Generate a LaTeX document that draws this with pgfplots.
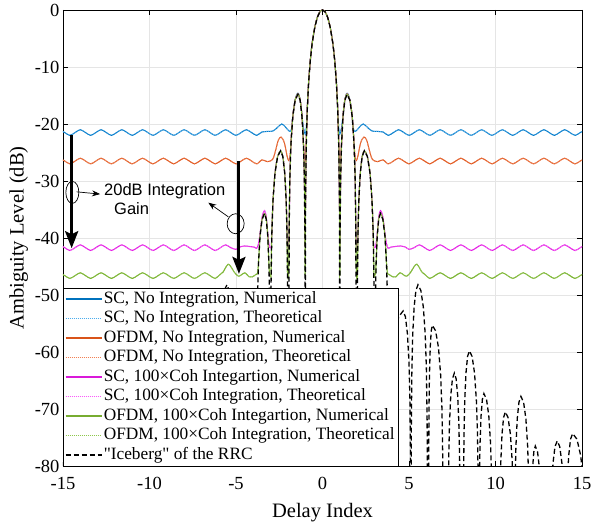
\documentclass[border=0pt]{standalone}
\usepackage{pgfplots}
\pgfplotsset{compat=1.18}
\usepackage{pgfplotstable}
\usepackage{fontspec}
\setmainfont{Liberation Serif}[Ligatures=TeXOff]
\setsansfont{Liberation Sans}
\usetikzlibrary{arrows.meta}

\definecolor{cB}{rgb}{0,0.447,0.741}
\definecolor{cO}{rgb}{0.85,0.325,0.098}
\definecolor{cM}{rgb}{0.85,0.1,0.85}
\definecolor{cG}{rgb}{0.466,0.674,0.188}
\definecolor{cBt}{rgb}{0.30,0.68,0.93}
\definecolor{cOt}{rgb}{0.95,0.50,0.33}
\definecolor{cMt}{rgb}{0.98,0.35,0.98}
\definecolor{cGt}{rgb}{0.56,0.78,0.30}

\pgfplotstableread{
x y
-15.2 -21.0
-14.9 -21.5
-14.6 -22.0
-14.3 -21.5
-14.0 -21.0
-13.7 -21.5
-13.4 -22.0
-13.1 -21.5
-12.8 -21.0
-12.5 -21.5
-12.2 -22.0
-11.9 -21.5
-11.6 -21.0
-11.3 -21.5
-11.0 -22.0
-10.7 -21.5
-10.4 -21.0
-10.1 -21.5
-9.8 -22.0
-9.5 -21.5
-9.2 -21.0
-8.9 -21.5
-8.6 -22.0
-8.3 -21.5
-8.0 -21.0
-7.7 -21.5
-7.4 -22.0
-7.1 -21.5
-6.8 -21.0
-6.5 -21.5
-6.2 -22.0
-5.9 -21.5
-5.6 -21.0
-5.3 -21.5
-5.0 -22.0
-4.7 -21.5
-4.4 -21.0
-4.1 -21.5
-3.8 -22.0
-3.5 -21.4
-3.1 -21.3
-2.84 -21.2
-2.6 -20.6
-2.36 -20.0
-2.15 -20.5
-1.98 -21.1
-1.85 -21.3
-1.77 -20.6
-1.717 -18.6
-1.579 -15.7
-1.42 -14.6
-1.294 -15.7
-1.185 -18.5
-1.12 -20.3
-1.06 -21.2
-1.0 -21.8
-0.94 -20.8
-0.88 -17.5
-0.8 -12.6
-0.7 -8.7
-0.6 -5.9
-0.45 -3.1
-0.3 -1.3
-0.15 -0.33
0 0
0.15 -0.33
0.3 -1.3
0.45 -3.1
0.6 -5.9
0.7 -8.7
0.8 -12.6
0.88 -17.5
0.94 -20.8
1.0 -21.8
1.06 -21.2
1.12 -20.3
1.185 -18.5
1.294 -15.7
1.42 -14.6
1.579 -15.7
1.717 -18.6
1.77 -20.6
1.85 -21.3
1.98 -21.1
2.15 -20.5
2.36 -20.0
2.6 -20.6
2.84 -21.2
3.1 -21.3
3.5 -21.4
3.8 -22.0
4.1 -21.5
4.4 -21.0
4.7 -21.5
5.0 -22.0
5.3 -21.5
5.6 -21.0
5.9 -21.5
6.2 -22.0
6.5 -21.5
6.8 -21.0
7.1 -21.5
7.4 -22.0
7.7 -21.5
8.0 -21.0
8.3 -21.5
8.6 -22.0
8.9 -21.5
9.2 -21.0
9.5 -21.5
9.8 -22.0
10.1 -21.5
10.4 -21.0
10.7 -21.5
11.0 -22.0
11.3 -21.5
11.6 -21.0
11.9 -21.5
12.2 -22.0
12.5 -21.5
12.8 -21.0
13.1 -21.5
13.4 -22.0
13.7 -21.5
14.0 -21.0
14.3 -21.5
14.6 -22.0
14.9 -21.5
15.2 -21.0
}\scnoint

\pgfplotstableread{
x y
-15.2 -26.0
-14.9 -26.5
-14.6 -27.0
-14.3 -26.5
-14.0 -26.0
-13.7 -26.5
-13.4 -27.0
-13.1 -26.5
-12.8 -26.0
-12.5 -26.5
-12.2 -27.0
-11.9 -26.5
-11.6 -26.0
-11.3 -26.5
-11.0 -27.0
-10.7 -26.5
-10.4 -26.0
-10.1 -26.5
-9.8 -27.0
-9.5 -26.5
-9.2 -26.0
-8.9 -26.5
-8.6 -27.0
-8.3 -26.5
-8.0 -26.0
-7.7 -26.5
-7.4 -27.0
-7.1 -26.5
-6.8 -26.0
-6.5 -26.5
-6.2 -27.0
-5.9 -26.5
-5.6 -26.0
-5.3 -26.5
-5.0 -27.0
-4.7 -26.5
-4.4 -26.0
-4.1 -26.5
-3.8 -27.0
-3.5 -26.3
-3.2 -26.6
-2.95 -26.4
-2.82 -25.8
-2.7 -24.5
-2.55 -22.8
-2.4 -22.3
-2.25 -22.9
-2.15 -24.0
-2.05 -25.6
-1.96 -26.4
-1.886 -25.8
-1.823 -23.4
-1.717 -18.7
-1.579 -15.8
-1.42 -14.7
-1.294 -15.7
-1.185 -18.6
-1.101 -23.4
-1.05 -26.0
-1.0 -26.6
-0.94 -23.5
-0.88 -17.5
-0.8 -12.6
-0.7 -8.7
-0.6 -5.9
-0.45 -3.1
-0.3 -1.3
-0.15 -0.33
0 0
0.15 -0.33
0.3 -1.3
0.45 -3.1
0.6 -5.9
0.7 -8.7
0.8 -12.6
0.88 -17.5
0.94 -23.5
1.0 -26.6
1.05 -26.0
1.101 -23.4
1.185 -18.6
1.294 -15.7
1.42 -14.7
1.579 -15.8
1.717 -18.7
1.823 -23.4
1.886 -25.8
1.96 -26.4
2.05 -25.6
2.15 -24.0
2.25 -22.9
2.4 -22.3
2.55 -22.8
2.7 -24.5
2.82 -25.8
2.95 -26.4
3.2 -26.6
3.5 -26.3
3.8 -27.0
4.1 -26.5
4.4 -26.0
4.7 -26.5
5.0 -27.0
5.3 -26.5
5.6 -26.0
5.9 -26.5
6.2 -27.0
6.5 -26.5
6.8 -26.0
7.1 -26.5
7.4 -27.0
7.7 -26.5
8.0 -26.0
8.3 -26.5
8.6 -27.0
8.9 -26.5
9.2 -26.0
9.5 -26.5
9.8 -27.0
10.1 -26.5
10.4 -26.0
10.7 -26.5
11.0 -27.0
11.3 -26.5
11.6 -26.0
11.9 -26.5
12.2 -27.0
12.5 -26.5
12.8 -26.0
13.1 -26.5
13.4 -27.0
13.7 -26.5
14.0 -26.0
14.3 -26.5
14.6 -27.0
14.9 -26.5
15.2 -26.0
}\ofdmnoint

\pgfplotstableread{
x y
-15.2 -41.2
-14.9 -41.7
-14.6 -42.2
-14.3 -41.7
-14.0 -41.2
-13.7 -41.7
-13.4 -42.2
-13.1 -41.7
-12.8 -41.2
-12.5 -41.7
-12.2 -42.2
-11.9 -41.7
-11.6 -41.2
-11.3 -41.7
-11.0 -42.2
-10.7 -41.7
-10.4 -41.2
-10.1 -41.7
-9.8 -42.2
-9.5 -41.7
-9.2 -41.2
-8.9 -41.7
-8.6 -42.2
-8.3 -41.7
-8.0 -41.2
-7.7 -41.7
-7.4 -42.2
-7.1 -41.7
-6.8 -41.2
-6.5 -41.7
-6.2 -42.2
-5.9 -41.7
-5.6 -41.2
-5.3 -41.7
-5.0 -42.0
-4.8 -41.6
-4.5 -41.4
-4.2 -41.5
-3.95 -41.6
-3.8 -41.8
-3.70 -41.0
-3.608 -39.2
-3.488 -36.3
-3.35 -35.2
-3.251 -36.3
-3.165 -39.2
-3.12 -40.6
-3.06 -41.6
-3.0 -41.7
-2.96 -41.5
-2.930 -39.3
-2.861 -33.4
-2.745 -28.6
-2.594 -25.7
-2.42 -24.7
-2.294 -25.7
-2.185 -28.6
-2.101 -33.4
-2.050 -39.3
-2.02 -41.5
-1.97 -41.5
-1.929 -38.8
-1.886 -29.4
-1.823 -23.5
-1.717 -18.7
-1.579 -15.8
-1.42 -14.8
-1.294 -15.8
-1.185 -18.7
-1.101 -23.5
-1.050 -29.4
-1.017 -38.8
-1.0 -41.5
-0.98 -33.8
-0.94 -24.0
-0.88 -17.5
-0.8 -12.6
-0.7 -8.7
-0.6 -5.9
-0.45 -3.1
-0.3 -1.3
-0.15 -0.33
0 0
0.15 -0.33
0.3 -1.3
0.45 -3.1
0.6 -5.9
0.7 -8.7
0.8 -12.6
0.88 -17.5
0.94 -24.0
0.98 -33.8
1.0 -41.5
1.017 -38.8
1.050 -29.4
1.101 -23.5
1.185 -18.7
1.294 -15.8
1.42 -14.8
1.579 -15.8
1.717 -18.7
1.823 -23.5
1.886 -29.4
1.929 -38.8
1.97 -41.5
2.02 -41.5
2.050 -39.3
2.101 -33.4
2.185 -28.6
2.294 -25.7
2.42 -24.7
2.594 -25.7
2.745 -28.6
2.861 -33.4
2.930 -39.3
2.96 -41.5
3.0 -41.7
3.06 -41.6
3.12 -40.6
3.165 -39.2
3.251 -36.3
3.35 -35.2
3.488 -36.3
3.608 -39.2
3.70 -41.0
3.8 -41.8
3.95 -41.6
4.2 -41.5
4.5 -41.4
4.8 -41.6
5.0 -42.0
5.3 -41.7
5.6 -41.2
5.9 -41.7
6.2 -42.2
6.5 -41.7
6.8 -41.2
7.1 -41.7
7.4 -42.2
7.7 -41.7
8.0 -41.2
8.3 -41.7
8.6 -42.2
8.9 -41.7
9.2 -41.2
9.5 -41.7
9.8 -42.2
10.1 -41.7
10.4 -41.2
10.7 -41.7
11.0 -42.2
11.3 -41.7
11.6 -41.2
11.9 -41.7
12.2 -42.2
12.5 -41.7
12.8 -41.2
13.1 -41.7
13.4 -42.2
13.7 -41.7
14.0 -41.2
14.3 -41.7
14.6 -42.2
14.9 -41.7
15.2 -41.2
}\scint

\pgfplotstableread{
x y
-15.2 -46.1
-14.9 -46.6
-14.6 -47.1
-14.3 -46.6
-14.0 -46.1
-13.7 -46.6
-13.4 -47.1
-13.1 -46.6
-12.8 -46.1
-12.5 -46.6
-12.2 -47.1
-11.9 -46.6
-11.6 -46.1
-11.3 -46.6
-11.0 -47.1
-10.7 -46.6
-10.4 -46.1
-10.1 -46.6
-9.8 -47.1
-9.5 -46.6
-9.2 -46.1
-8.9 -46.6
-8.6 -47.1
-8.3 -46.6
-8.0 -46.1
-7.7 -46.6
-7.4 -47.1
-7.1 -46.6
-6.8 -46.1
-6.5 -46.6
-6.2 -47.1
-5.92 -46.4
-5.75 -46.0
-5.6 -45.2
-5.45 -44.6
-5.3 -45.0
-5.1 -46.0
-4.87 -46.7
-4.7 -46.5
-4.48 -46.1
-4.25 -46.8
-4.05 -46.8
-3.85 -46.4
-3.76 -46.2
-3.70 -44.4
-3.608 -39.6
-3.488 -36.7
-3.35 -35.7
-3.251 -36.7
-3.165 -39.6
-3.099 -44.4
-3.06 -46.3
-3.0 -46.5
-2.977 -46.4
-2.930 -39.3
-2.861 -33.4
-2.745 -28.6
-2.594 -25.7
-2.42 -24.7
-2.294 -25.7
-2.185 -28.6
-2.101 -33.4
-2.050 -39.3
-2.02 -46.3
-1.96 -46.4
-1.929 -38.8
-1.886 -29.4
-1.823 -23.5
-1.717 -18.7
-1.579 -15.8
-1.42 -14.8
-1.294 -15.8
-1.185 -18.7
-1.101 -23.5
-1.050 -29.4
-1.017 -38.8
-1.0 -46.4
-0.98 -33.8
-0.94 -24.0
-0.88 -17.5
-0.8 -12.6
-0.7 -8.7
-0.6 -5.9
-0.45 -3.1
-0.3 -1.3
-0.15 -0.33
0 0
0.15 -0.33
0.3 -1.3
0.45 -3.1
0.6 -5.9
0.7 -8.7
0.8 -12.6
0.88 -17.5
0.94 -24.0
0.98 -33.8
1.0 -46.4
1.017 -38.8
1.050 -29.4
1.101 -23.5
1.185 -18.7
1.294 -15.8
1.42 -14.8
1.579 -15.8
1.717 -18.7
1.823 -23.5
1.886 -29.4
1.929 -38.8
1.96 -46.4
2.02 -46.3
2.050 -39.3
2.101 -33.4
2.185 -28.6
2.294 -25.7
2.42 -24.7
2.594 -25.7
2.745 -28.6
2.861 -33.4
2.930 -39.3
2.977 -46.4
3.0 -46.5
3.06 -46.3
3.099 -44.4
3.165 -39.6
3.251 -36.7
3.35 -35.7
3.488 -36.7
3.608 -39.6
3.70 -44.4
3.76 -46.2
3.85 -46.4
4.05 -46.8
4.25 -46.8
4.48 -46.1
4.7 -46.5
4.87 -46.7
5.1 -46.0
5.3 -45.0
5.45 -44.6
5.6 -45.2
5.75 -46.0
5.92 -46.4
6.2 -47.1
6.5 -46.6
6.8 -46.1
7.1 -46.6
7.4 -47.1
7.7 -46.6
8.0 -46.1
8.3 -46.6
8.6 -47.1
8.9 -46.6
9.2 -46.1
9.5 -46.6
9.8 -47.1
10.1 -46.6
10.4 -46.1
10.7 -46.6
11.0 -47.1
11.3 -46.6
11.6 -46.1
11.9 -46.6
12.2 -47.1
12.5 -46.6
12.8 -46.1
13.1 -46.6
13.4 -47.1
13.7 -46.6
14.0 -46.1
14.3 -46.6
14.6 -47.1
14.9 -46.6
15.2 -46.1
}\ofdmint

\pgfplotstableread{
x y
-15.091 -83.0
-14.925 -78.2
-14.709 -75.3
-14.46 -74.3
-14.337 -75.3
-14.230 -78.2
-14.148 -83.0
-14.099 -88.9
-14.05 -110
-13.935 -84.3
-13.839 -79.5
-13.714 -76.6
-13.57 -75.6
-13.438 -76.6
-13.324 -79.5
-13.236 -84.3
-13.13 -110
-12.73 -110
-12.627 -85.2
-12.541 -80.4
-12.429 -77.5
-12.3 -76.5
-12.216 -77.5
-12.143 -80.4
-12.087 -85.2
-12.02 -110
-11.98 -110
-11.960 -91.8
-11.919 -82.4
-11.858 -76.5
-11.756 -71.7
-11.623 -68.8
-11.47 -67.8
-11.356 -68.8
-11.257 -71.7
-11.181 -76.5
-11.136 -82.4
-11.105 -91.8
-11.09 -110
-11.069 -94.5
-11.028 -85.1
-10.965 -79.2
-10.861 -74.4
-10.726 -71.5
-10.57 -70.5
-10.467 -71.5
-10.377 -74.4
-10.308 -79.2
-10.266 -85.1
-10.239 -94.5
-10.225 -110
-9.835 -110
-9.815 -91.3
-9.774 -81.9
-9.714 -76.0
-9.613 -71.2
-9.481 -68.3
-9.33 -67.3
-9.242 -68.3
-9.165 -71.2
-9.107 -76.0
-9.071 -81.9
-9.048 -91.3
-9.036 -110
-9.023 -110
-9.002 -83.8
-8.959 -74.4
-8.895 -68.5
-8.788 -63.7
-8.650 -60.8
-8.49 -59.8
-8.384 -60.8
-8.293 -63.7
-8.222 -68.5
-8.180 -74.4
-8.152 -83.8
-8.138 -110
-7.964 -110
-7.950 -87.7
-7.923 -78.3
-7.881 -72.4
-7.813 -67.6
-7.723 -64.7
-7.62 -63.7
-7.510 -64.7
-7.415 -67.6
-7.342 -72.4
-7.298 -78.3
-7.269 -87.7
-7.254 -110
-6.98 -110
-6.955 -79.3
-6.904 -69.9
-6.829 -64.0
-6.703 -59.2
-6.539 -56.3
-6.35 -55.3
-6.284 -56.3
-6.227 -59.2
-6.183 -64.0
-6.156 -69.9
-6.139 -79.3
-6.13 -110
-6.07 -110
-6.048 -72.2
-6.004 -62.8
-5.938 -56.9
-5.828 -52.1
-5.685 -49.2
-5.52 -48.2
-5.40 -49.2
-5.296 -52.1
-5.216 -56.9
-5.168 -62.8
-5.136 -72.2
-5.12 -110
-5.10 -110
-5.082 -76.8
-5.047 -67.4
-4.994 -61.5
-4.906 -56.7
-4.792 -53.8
-4.66 -52.8
-4.405 -53.8
-4.184 -56.7
-4.014 -61.5
-3.912 -67.4
-3.844 -76.8
-3.81 -110
-3.792 -59.7
-3.755 -50.3
-3.700 -44.4
-3.608 -39.6
-3.488 -36.7
-3.35 -35.7
-3.251 -36.7
-3.165 -39.6
-3.099 -44.4
-3.060 -50.3
-3.033 -59.7
-3.02 -110
-3.0 -110
-2.977 -48.7
-2.930 -39.3
-2.861 -33.4
-2.745 -28.6
-2.594 -25.7
-2.42 -24.7
-2.294 -25.7
-2.185 -28.6
-2.101 -33.4
-2.050 -39.3
-2.017 -48.7
-2.0 -110
-1.95 -110
-1.929 -38.8
-1.886 -29.4
-1.823 -23.5
-1.717 -18.7
-1.579 -15.8
-1.42 -14.8
-1.294 -15.8
-1.185 -18.7
-1.101 -23.5
-1.050 -29.4
-1.017 -38.8
-1.0 -110
-0.98 -33.8
-0.94 -24.0
-0.88 -17.5
-0.8 -12.6
-0.7 -8.7
-0.6 -5.9
-0.45 -3.1
-0.3 -1.3
-0.15 -0.33
0 0
0.15 -0.33
0.3 -1.3
0.45 -3.1
0.6 -5.9
0.7 -8.7
0.8 -12.6
0.88 -17.5
0.94 -24.0
0.98 -33.8
1.0 -110
1.017 -38.8
1.050 -29.4
1.101 -23.5
1.185 -18.7
1.294 -15.8
1.42 -14.8
1.579 -15.8
1.717 -18.7
1.823 -23.5
1.886 -29.4
1.929 -38.8
1.95 -110
2.0 -110
2.017 -48.7
2.050 -39.3
2.101 -33.4
2.185 -28.6
2.294 -25.7
2.42 -24.7
2.594 -25.7
2.745 -28.6
2.861 -33.4
2.930 -39.3
2.977 -48.7
3.0 -110
3.02 -110
3.033 -59.7
3.060 -50.3
3.099 -44.4
3.165 -39.6
3.251 -36.7
3.35 -35.7
3.488 -36.7
3.608 -39.6
3.700 -44.4
3.755 -50.3
3.792 -59.7
3.81 -110
3.844 -76.8
3.912 -67.4
4.014 -61.5
4.184 -56.7
4.405 -53.8
4.66 -52.8
4.792 -53.8
4.906 -56.7
4.994 -61.5
5.047 -67.4
5.082 -76.8
5.10 -110
5.12 -110
5.136 -72.2
5.168 -62.8
5.216 -56.9
5.296 -52.1
5.40 -49.2
5.52 -48.2
5.685 -49.2
5.828 -52.1
5.938 -56.9
6.004 -62.8
6.048 -72.2
6.07 -110
6.13 -110
6.139 -79.3
6.156 -69.9
6.183 -64.0
6.227 -59.2
6.284 -56.3
6.35 -55.3
6.539 -56.3
6.703 -59.2
6.829 -64.0
6.904 -69.9
6.955 -79.3
6.98 -110
7.254 -110
7.269 -87.7
7.298 -78.3
7.342 -72.4
7.415 -67.6
7.510 -64.7
7.62 -63.7
7.723 -64.7
7.813 -67.6
7.881 -72.4
7.923 -78.3
7.950 -87.7
7.964 -110
8.138 -110
8.152 -83.8
8.180 -74.4
8.222 -68.5
8.293 -63.7
8.384 -60.8
8.49 -59.8
8.650 -60.8
8.788 -63.7
8.895 -68.5
8.959 -74.4
9.002 -83.8
9.023 -110
9.036 -110
9.048 -91.3
9.071 -81.9
9.107 -76.0
9.165 -71.2
9.242 -68.3
9.33 -67.3
9.481 -68.3
9.613 -71.2
9.714 -76.0
9.774 -81.9
9.815 -91.3
9.835 -110
10.225 -110
10.239 -94.5
10.266 -85.1
10.308 -79.2
10.377 -74.4
10.467 -71.5
10.57 -70.5
10.726 -71.5
10.861 -74.4
10.965 -79.2
11.028 -85.1
11.069 -94.5
11.09 -110
11.105 -91.8
11.136 -82.4
11.181 -76.5
11.257 -71.7
11.356 -68.8
11.47 -67.8
11.623 -68.8
11.756 -71.7
11.858 -76.5
11.919 -82.4
11.960 -91.8
11.98 -110
12.02 -110
12.087 -85.2
12.143 -80.4
12.216 -77.5
12.3 -76.5
12.429 -77.5
12.541 -80.4
12.627 -85.2
12.73 -110
13.13 -110
13.236 -84.3
13.324 -79.5
13.438 -76.6
13.57 -75.6
13.714 -76.6
13.839 -79.5
13.935 -84.3
14.05 -110
14.099 -88.9
14.148 -83.0
14.230 -78.2
14.337 -75.3
14.46 -74.3
14.709 -75.3
14.925 -78.2
15.091 -83.0
}\iceberg

\begin{document}
\begin{tikzpicture}
\begin{axis}[
  name=ax,
  scale only axis, width=519pt, height=456pt,
  xmin=-15, xmax=15, ymin=-80, ymax=0,
  xtick={-15,-10,...,15}, ytick={-80,-70,...,0},
  grid=major, major grid style={gray!20, line width=0.5pt},
  axis line style={black, line width=0.6pt},
  tick style={black, line width=0.6pt}, major tick length=5pt,
  tick align=inside,
  /pgf/number format/assume math mode=true,
  tick label style={font=\fontsize{18.5}{22}\selectfont},
  xticklabel style={yshift=-8pt},
  label style={font=\fontsize{20.5}{24}\selectfont},
  xlabel style={yshift=-6pt},
  xlabel={Delay Index}, ylabel={Ambiguity Level (dB)},
  legend cell align=left,
  legend style={at={(0,0)}, anchor=south west, draw=black, fill=white,
    font=\fontsize{17.3}{20}\selectfont, inner xsep=2pt, inner ysep=1pt, row sep=0pt,
    nodes={inner sep=1.5pt, text height=12.3pt, text depth=4.2pt}},
  legend image code/.code={\draw[line width=1.1pt, #1] (0pt,0pt) -- (36pt,0pt);},
  every axis plot/.append style={line width=1pt},
]
\addplot[cB, smooth] table {\scnoint};
\addlegendentry{SC, No Integration, Numerical}
\addplot[cBt, smooth, dash pattern=on 1pt off 1pt] table {\scnoint};
\addlegendentry{SC, No Integration, Theoretical}
\addplot[cO, smooth] table {\ofdmnoint};
\addlegendentry{OFDM, No Integration, Numerical}
\addplot[cOt, smooth, dash pattern=on 1pt off 1pt] table {\ofdmnoint};
\addlegendentry{OFDM, No Integration, Theoretical}
\addplot[cM, smooth] table {\scint};
\addlegendentry{SC, 100×Coh Integartion, Numerical}
\addplot[cMt, smooth, dash pattern=on 1pt off 1pt] table {\scint};
\addlegendentry{SC, 100×Coh Integration, Theoretical}
\addplot[cG, smooth] table {\ofdmint};
\addlegendentry{OFDM, 100×Coh Integartion, Numerical}
\addplot[cGt, smooth, dash pattern=on 1pt off 1pt] table {\ofdmint};
\addlegendentry{OFDM, 100×Coh Integration, Theoretical}
\addplot[black, line width=1.3pt, dash pattern=on 5pt off 3pt] table {\iceberg};
\addlegendentry{"Iceberg" of the RRC}

% annotations
\draw[line width=3pt, -{Stealth[length=17pt, width=13pt, inset=3pt]}] (axis cs:-14.5,-21.9) -- (axis cs:-14.5,-41.8);
\draw[line width=3pt, -{Stealth[length=17pt, width=13pt, inset=3pt]}] (axis cs:-4.83,-26.5) -- (axis cs:-4.83,-46.3);
\draw[line width=0.7pt] (axis cs:-14.46,-32.0) ellipse [x radius=6.5pt, y radius=11pt];
\draw[line width=0.7pt] (axis cs:-5.02,-37.5) ellipse [x radius=8.5pt, y radius=10pt];
\draw[line width=0.7pt, -{Stealth[length=8pt, width=6pt]}] (axis cs:-14.21,-31.9) -- (axis cs:-12.86,-32.3);
\draw[line width=0.7pt, -{Stealth[length=8pt, width=6pt]}] (axis cs:-5.44,-36.3) -- (axis cs:-6.6,-33.8);
\node[anchor=base west, inner sep=0pt, font=\sffamily\fontsize{16.5}{19}\selectfont] at (axis cs:-12.63,-32.46) {20dB Integration};
\node[anchor=base west, inner sep=0pt, font=\sffamily\fontsize{16.5}{19}\selectfont] at (axis cs:-12.05,-35.96) {Gain};
\end{axis}
\pgfresetboundingbox
\path[use as bounding box] ([shift={(-63pt,-59pt)}]ax.south west) rectangle ([shift={(10pt,10pt)}]ax.north east);
\end{tikzpicture}
\end{document}
